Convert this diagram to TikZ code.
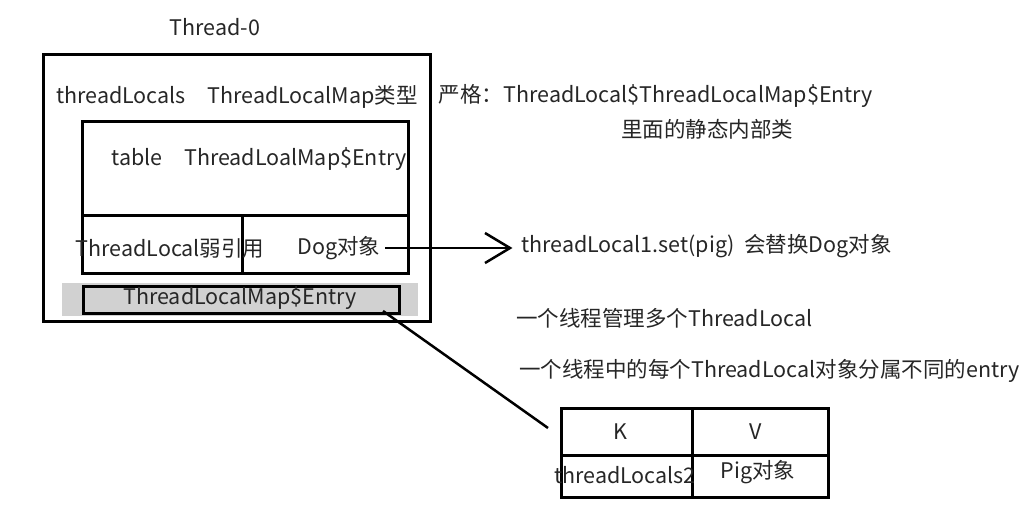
\documentclass[tikz,border=0pt]{standalone}
\usepackage{fontspec}
\setmainfont{Noto Sans CJK SC}
\begin{document}
\begin{tikzpicture}[x=1pt,y=-1pt,
  box/.style={draw=black,line width=3pt},
  lbl/.style={inner sep=0pt,font=\fontsize{21.5}{24}\selectfont,text=black!85},
  conn/.style={draw=black,line width=2.5pt}]
\useasboundingbox (0,0) rectangle (1026,520);
% outer thread box
\node[box,minimum width=387pt,minimum height=267pt,anchor=north west,inner sep=0pt] (thread) at (42,53) {};
\node[lbl] (tname) at (215,27) {Thread-0};
\node[lbl] (tl) at (237,97) {threadLocals\quad ThreadLocalMap类型};
% table box
\node[box,minimum width=326pt,minimum height=152pt,anchor=north west,inner sep=0pt] (table) at (81,120) {};
\coordinate (hl) at (81,215);
\coordinate (hr) at (407,215);
\draw[line width=3pt] (hl) -- (hr);
\coordinate (vt) at (242,215);
\coordinate (vb) at (242,272);
\draw[line width=3pt] (vt) -- (vb);
\node[lbl] (tabtxt) at (259,159) {table\quad ThreadLoalMap\$Entry};
\node[lbl] (weak) at (170,248) {ThreadLocal弱引用};
\node[lbl] (dog) at (339,248) {Dog对象};
% entry band
\fill[black!18] (62,283) rectangle (418,316);
\node[box,minimum width=316pt,minimum height=27pt,anchor=north west,inner sep=0pt] (entry) at (82,285) {};
\node[lbl] (entrytxt) at (240,298) {ThreadLocalMap\$Entry};
% right texts
\node[lbl] (strict) at (656,96) {严格：ThreadLocal\$ThreadLocalMap\$Entry};
\node[lbl] (inner) at (707,129) {里面的静态内部类};
\node[lbl,anchor=west] (set) at (521,246) {threadLocal1.set(pig)\ \ 会替换Dog对象};
\node[lbl,anchor=west] (multi) at (516,318) {一个线程管理多个ThreadLocal};
\node[lbl,anchor=west] (each) at (519,371) {一个线程中的每个ThreadLocal对象分属不同的entry};
% KV box
\node[box,minimum width=267pt,minimum height=89pt,anchor=north west,inner sep=0pt] (kv) at (560,407) {};
\coordinate (kvl) at (560,455);
\coordinate (kvr) at (827,455);
\draw[line width=3pt] (kvl) -- (kvr);
\coordinate (kvt) at (692,407);
\coordinate (kvb) at (692,496);
\draw[line width=3pt] (kvt) -- (kvb);
\node[lbl] (k) at (620,432) {K};
\node[lbl] (v) at (756,432) {V};
\node[lbl] (kt) at (625,475) {threadLocals2};
\node[lbl] (vt2) at (758,472) {Pig对象};
% connectors
\coordinate (a1) at (385,248);
\coordinate (a2) at (510,248);
\draw[conn] (a1) -- (a2);
\coordinate (h1) at (485,233);
\coordinate (h2) at (485,263);
\draw[conn,line join=miter] (h1) -- (a2) -- (h2);
\coordinate (l1) at (383,311);
\coordinate (l2) at (548,428);
\draw[conn] (l1) -- (l2);
\end{tikzpicture}
\end{document}
